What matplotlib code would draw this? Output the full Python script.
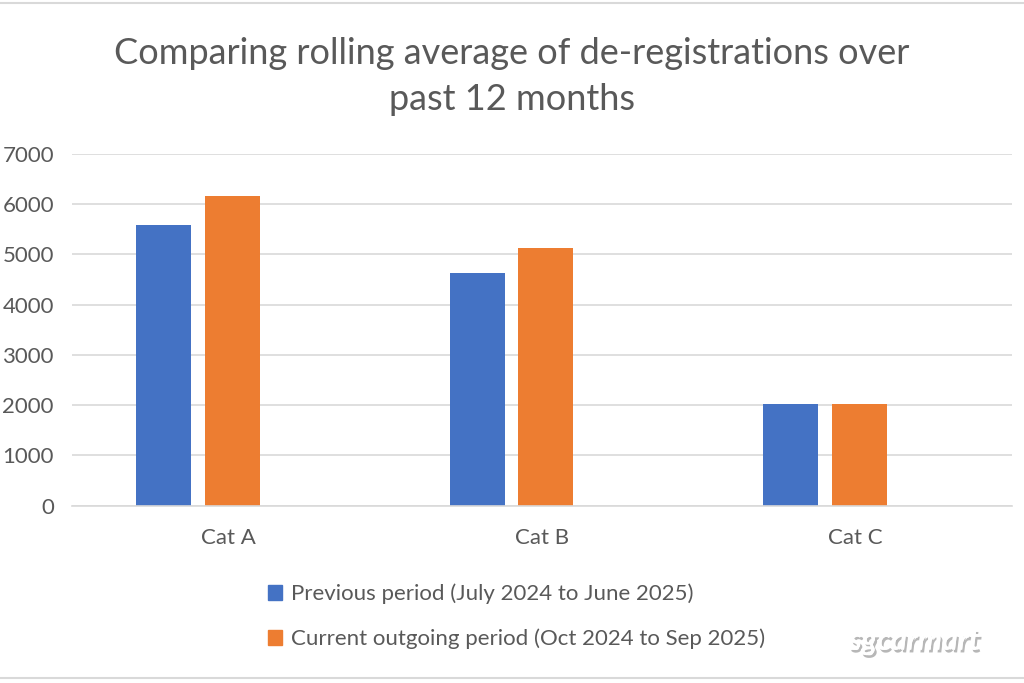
import matplotlib.pyplot as plt
import matplotlib.patheffects as pe
from matplotlib.lines import Line2D
from matplotlib.patches import Patch
import numpy as np

categories = ['Cat A', 'Cat B', 'Cat C']
previous = [5590, 4640, 2025]
current = [6155, 5130, 2025]
series_labels = ['Previous period (July 2024 to June 2025)',
                 'Current outgoing period (Oct 2024 to Sep 2025)']
yticks = [0, 1000, 2000, 3000, 4000, 5000, 6000, 7000]
title = 'Comparing rolling average of de-registrations over\npast 12 months'

plt.rcParams['font.family'] = ['Lato', 'DejaVu Sans']
text_color = '#595959'
blue = '#4472C4'
orange = '#ED7D31'

fig = plt.figure(figsize=(10.24, 6.83), dpi=100)
ax = fig.add_axes([0.0703, 0.2596, 0.918, 0.515])

x = np.arange(len(categories))
width = 0.176
ax.bar(x - 0.207, previous, width, color=blue)
ax.bar(x + 0.012, current, width, color=orange)

ax.set_xlim(-0.5, 2.5)
ax.set_ylim(0, 7000)
ax.set_yticks(yticks)
ax.set_xticks(x)
ax.set_xticklabels(categories)
ax.tick_params(axis='both', length=0, labelsize=16, colors=text_color)
ax.tick_params(axis='x', pad=16)
ax.tick_params(axis='y', pad=13)
ax.yaxis.grid(True, color='#D9D9D9', linewidth=1.2)
ax.set_axisbelow(True)
for s in ['top', 'right', 'left']:
    ax.spines[s].set_visible(False)
ax.spines['bottom'].set_color('#D9D9D9')
ax.spines['bottom'].set_linewidth(1.2)

fig.text(0.5, 0.888, title, ha='center', va='center', fontsize=26,
         color=text_color, linespacing=1.47)

handles = [Patch(color=blue), Patch(color=orange)]
leg = fig.legend(handles, series_labels, loc='upper left',
                 bbox_to_anchor=(0.242, 0.175), frameon=False, fontsize=16,
                 handlelength=0.65, handleheight=0.65, handletextpad=0.4,
                 labelspacing=1.1, labelcolor=text_color)

fig.text(0.893, 0.062, 'sgcarmart', ha='center', va='center', fontsize=22,
         fontweight='bold', style='italic', color='white',
         path_effects=[pe.withSimplePatchShadow(offset=(1.5, -2), shadow_rgbFace='#888888', alpha=0.6), pe.Normal()])

# light frame lines at top and bottom of the picture
for yy in (0.996, 0.007):
    fig.add_artist(Line2D([0, 1], [yy, yy], transform=fig.transFigure,
                          color='#D9D9D9', linewidth=1.5))

fig.savefig('out.png', dpi=100)
